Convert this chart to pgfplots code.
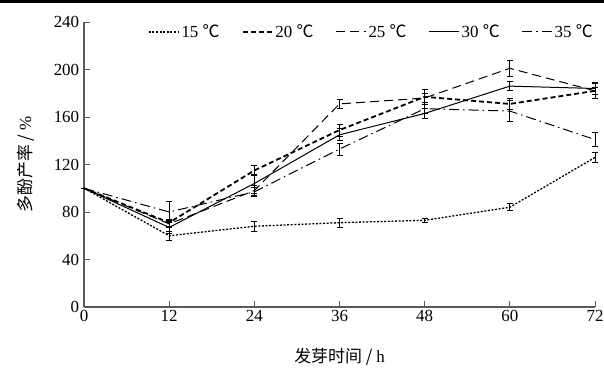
\documentclass[border=0pt]{standalone}
\usepackage{pgfplots}
\pgfplotsset{compat=1.18}
\usepackage{pgfplotstable}
\usepackage{fontspec}
\setmainfont{Liberation Serif}
\newfontfamily\cjk{Noto Sans CJK SC}

\pgfplotstableread{
x y e
0 100 0
12 60 4
24 68 4
36 71 4
48 73 2
60 84 3
72 126 4
}\tA
\pgfplotstableread{
x y e
0 100 0
12 71 3
24 115 4
36 149 5
48 177 6
60 171 5
72 182 3
}\tB
\pgfplotstableread{
x y e
0 100 0
12 70 3
24 98 4
36 171 4
48 176 4
60 201 7
72 182 6
}\tC
\pgfplotstableread{
x y e
0 100 0
12 67 5
24 104 8
36 145 5
48 163 4
60 186 4
72 184 5
}\tD
\pgfplotstableread{
x y e
0 100 0
12 80 9
24 97 4
36 133 5
48 167 4
60 165 9
72 141 6
}\tE

\begin{document}
\fontsize{17}{20}\selectfont
\begin{tikzpicture}
\begin{axis}[
  name=ax,
  scale only axis,
  width=511bp, height=285bp,
  xmin=0, xmax=72, ymin=0, ymax=240,
  xtick={0,12,24,36,48,60,72},
  ytick={0,40,80,120,160,200,240},
  axis x line*=bottom, axis y line*=left,
  axis line style={draw=black!65, line width=1.2bp},
  tick style={draw=black!65, line width=1bp},
  tick align=inside,
  major tick length=6bp,
  /pgf/number format/assume math mode=true,
  ticklabel style={font=\fontsize{17}{20}\selectfont},
  xticklabel style={yshift=3bp},
  yticklabel style={xshift=1bp},
  xlabel={\cjk 发芽时间\ /\ \rmfamily h},
  ylabel={\cjk 多酚产率\ /\ \rmfamily \%},
  label style={font=\fontsize{17}{20}\selectfont},
  xlabel style={yshift=-15bp},
  ylabel style={yshift=8bp},
  clip=false,
  error bars/y dir=both,
  error bars/y explicit,
  error bars/error mark options={rotate=90, mark size=3bp, line width=0.8bp, solid},
  error bars/error bar style={line width=0.8bp, solid, black},
  legend columns=5,
  legend style={draw=none, fill=none, at={(1,1.0)}, anchor=north east,
    font=\fontsize{17}{20}\selectfont, inner sep=0pt,
    /tikz/every even column/.append style={column sep=20bp}},
  legend image code/.code={\draw[#1] (0bp,0bp) -- (30bp,0bp);},
]
\addplot[black, line width=1.3bp, dash pattern=on 2bp off 1.6bp, no markers] table[x=x,y=y,y error=e]{\tA};
\addlegendentry{15 {\cjk ℃}}
\addplot[black, line width=1.8bp, dash pattern=on 5bp off 3bp, no markers] table[x=x,y=y,y error=e]{\tB};
\addlegendentry{20 {\cjk ℃}}
\addplot[black, line width=1bp, dash pattern=on 9bp off 5bp, no markers] table[x=x,y=y,y error=e]{\tC};
\addlegendentry{25 {\cjk ℃}}
\addplot[black, line width=1bp, solid, no markers] table[x=x,y=y,y error=e]{\tD};
\addlegendentry{30 {\cjk ℃}}
\addplot[black, line width=1bp, dash pattern=on 10bp off 4bp on 1.5bp off 4bp, no markers] table[x=x,y=y,y error=e]{\tE};
\addlegendentry{35 {\cjk ℃}}
\end{axis}
\draw[line width=3bp] ([xshift=-84bp,yshift=20.5bp]ax.north west) -- ([xshift=9bp,yshift=20.5bp]ax.north east);
\pgfresetboundingbox
\path[use as bounding box] ([xshift=-84bp,yshift=22bp]ax.north west) rectangle ([xshift=9bp,yshift=-65bp]ax.south east);
\end{tikzpicture}
\end{document}
